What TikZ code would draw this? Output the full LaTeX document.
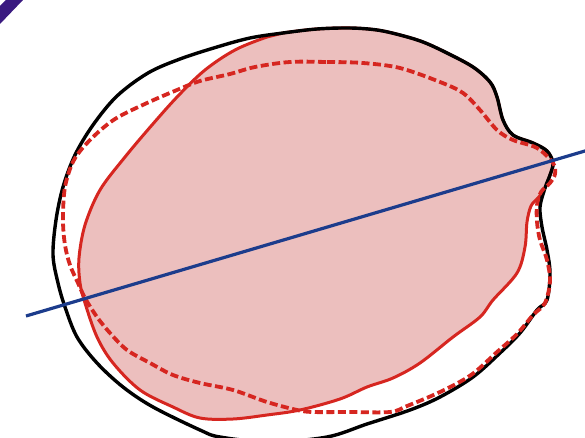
\documentclass[tikz,border=0pt]{standalone}
\usepackage{xcolor}
\usepackage{tikz}

\definecolor{cornerpurple}{RGB}{58,26,128}
\definecolor{redline}{RGB}{214,38,32}
\definecolor{pinkfill}{RGB}{236,191,190}
\definecolor{blueline}{RGB}{28,60,140}

\begin{document}
\begin{tikzpicture}[
    x=1pt, y=-1pt,
    outline/.style={draw=black, line width=3.4pt, line join=round},
    measured/.style={draw=redline, line width=3pt, fill=pinkfill, line join=round},
    predicted/.style={draw=redline, line width=3.8pt, dash pattern=on 8pt off 3.5pt},
    axisline/.style={draw=blueline, line width=3.2pt},
]
    \useasboundingbox (0,0) rectangle (585,438);
    \clip (0,0) rectangle (585,438);

    % corner mark
    \fill[cornerpurple] (6,0) -- (23,0) -- (0,24) -- (0,6) -- cycle;

    % measured section (filled)
    \path[measured] plot[smooth cycle, tension=0.55] coordinates {
        (267,37) (283,33) (317,29) (350,28) (377,30) (400,35) (423,42) (447,53)
        (473,67) (490,82) (497,97) (503,120) (513,135) (533,143) (547,151)
        (553,163) (550,175) (545,188) (538,198) (531,206) (527,222) (525,247)
        (517,273) (493,300) (480,317) (453,337) (420,363) (393,378) (367,387)
        (340,399) (300,410) (267,415) (233,419) (200,418) (173,407) (140,390)
        (113,363) (97,337) (85,303) (80,283) (79,258) (85,225) (100,190)
        (125,157) (152,125) (178,96) (205,70) (235,50)};

    % outer contour
    \path[outline] plot[smooth cycle, tension=0.55] coordinates {
        (317,29) (350,28) (377,30) (400,35) (423,42) (447,53) (473,67) (490,82)
        (497,97) (503,120) (513,135) (533,143) (547,151) (553,163) (550,175)
        (545,188) (540,207) (542,227) (547,250) (550,273) (547,300) (537,310)
        (520,333) (500,353) (473,377) (440,397) (410,410) (367,424) (327,437)
        (270,442) (220,437) (200,430) (153,407) (123,387) (97,363) (77,337)
        (65,307) (58,283) (53,255) (56,220) (63,187) (75,155) (93,125)
        (117,96) (148,73) (180,59) (217,47) (250,38) (283,33)};

    % predicted section
    \path[predicted] plot[smooth cycle, tension=0.55] coordinates {
        (290,62) (327,62) (363,63) (400,68) (440,82) (463,93) (480,110)
        (497,130) (513,140) (537,148) (553,163) (555,174) (550,183) (541,192)
        (537,205) (537,222) (540,240) (547,260) (550,281) (545,303) (533,315)
        (517,334) (497,352) (471,375) (440,392) (407,406) (390,412) (350,412)
        (313,412) (297,410) (267,402) (233,390) (200,383) (173,375) (150,363)
        (127,350) (110,333) (97,317) (85,298) (78,283) (70,265) (65,245)
        (63,220) (65,187) (74,160) (91,139) (115,119) (147,103) (177,90)
        (200,81) (230,74) (255,67)};

    % axis
    \coordinate (axL) at (26,316);
    \coordinate (axR) at (590,149.5);
    \draw[axisline] (axL) -- (axR);
\end{tikzpicture}
\end{document}
